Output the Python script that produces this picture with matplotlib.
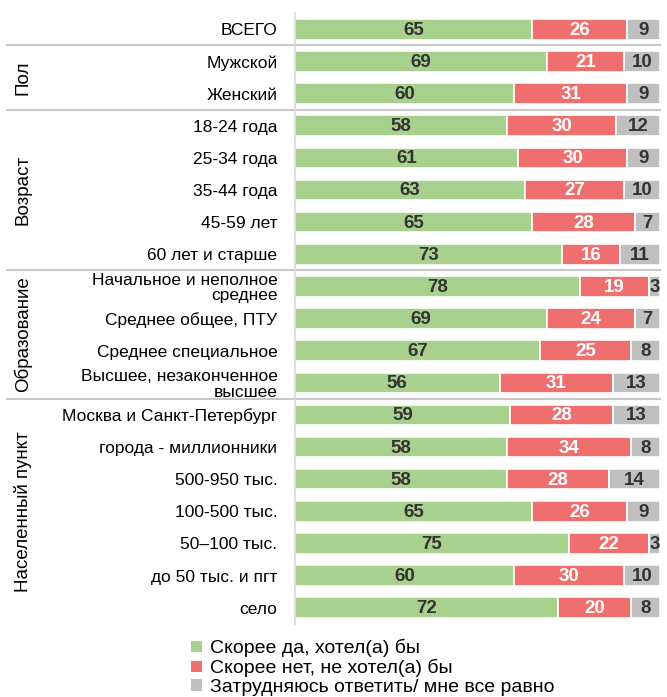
import matplotlib.pyplot as plt
import matplotlib.transforms as mtransforms
from matplotlib.patches import Patch

plt.rcParams['font.family'] = ['Liberation Sans', 'DejaVu Sans']

categories = ['ВСЕГО', 'Мужской', 'Женский', '18-24 года', '25-34 года', '35-44 года',
              '45-59 лет', '60 лет и старше', 'Начальное и неполное\nсреднее',
              'Среднее общее, ПТУ', 'Среднее специальное', 'Высшее, незаконченное\nвысшее',
              'Москва и Санкт-Петербург', 'города - миллионники', '500-950 тыс.',
              '100-500 тыс.', '50–100 тыс.', 'до 50 тыс. и пгт', 'село']
yes = [65, 69, 60, 58, 61, 63, 65, 73, 78, 69, 67, 56, 59, 58, 58, 65, 75, 60, 72]
no = [26, 21, 31, 30, 30, 27, 28, 16, 19, 24, 25, 31, 28, 34, 28, 26, 22, 30, 20]
dk = [9, 10, 9, 12, 9, 10, 7, 11, 3, 7, 8, 13, 13, 8, 14, 9, 3, 10, 8]
series_names = ['Скорее да, хотел(а) бы', 'Скорее нет, не хотел(а) бы',
                'Затрудняюсь ответить/ мне все равно']
groups = [('Пол', 1, 2), ('Возраст', 3, 7), ('Образование', 8, 11), ('Населенный пункт', 12, 18)]
separators = [0.5, 2.5, 7.5, 11.5]

colors = ['#A9D18E', '#EF6E6E', '#BFBFBF']
text_colors = ['#333333', 'white', '#333333']

fig = plt.figure(figsize=(6.67, 6.97), dpi=100)
ax = fig.add_axes([0.442, 0.105, 0.548, 0.876])

y = list(range(len(categories)))
left = [0] * len(categories)
for vals, c, tc in zip([yes, no, dk], colors, text_colors):
    bars = ax.barh(y, vals, left=left, height=0.64, color=c, edgecolor='white', linewidth=1.2)
    for b, v in zip(bars, vals):
        ax.text(b.get_x() + b.get_width() / 2, b.get_y() + b.get_height() / 2 + 0.03, str(v),
                ha='center', va='center', fontsize=13.5, fontweight='bold', color=tc)
    left = [l + v for l, v in zip(left, vals)]

ax.set_xlim(0, 100)
ax.set_ylim(18.5, -0.5)
ax.set_yticks(y)
ax.set_yticklabels(categories, fontsize=12.5, linespacing=1.05, ha='right')
ax.tick_params(axis='y', length=0, pad=12.5)
ax.set_xticks([])
for s in ['top', 'right', 'bottom']:
    ax.spines[s].set_visible(False)
ax.spines['left'].set_color('#D9D9D9')
ax.spines['left'].set_linewidth(1.2)

trans = mtransforms.blended_transform_factory(ax.transAxes, ax.transData)
for s in separators:
    ax.plot([-0.787, 1.0], [s, s], transform=trans, color='#C8C8C8', lw=1.5, clip_on=False)

for name, a, b in groups:
    ax.text(-0.745, (a + b) / 2, name, transform=trans, rotation=90, ha='center', va='center',
            fontsize=13.5)

handles = [Patch(facecolor=c, edgecolor='none') for c in colors]
fig.legend(handles, series_names, loc='upper left', bbox_to_anchor=(0.272, 0.097),
           frameon=False, fontsize=14, handlelength=0.55, handleheight=0.55,
           handletextpad=0.4, labelspacing=0.08, borderpad=0)

fig.savefig('out.png', dpi=100)
